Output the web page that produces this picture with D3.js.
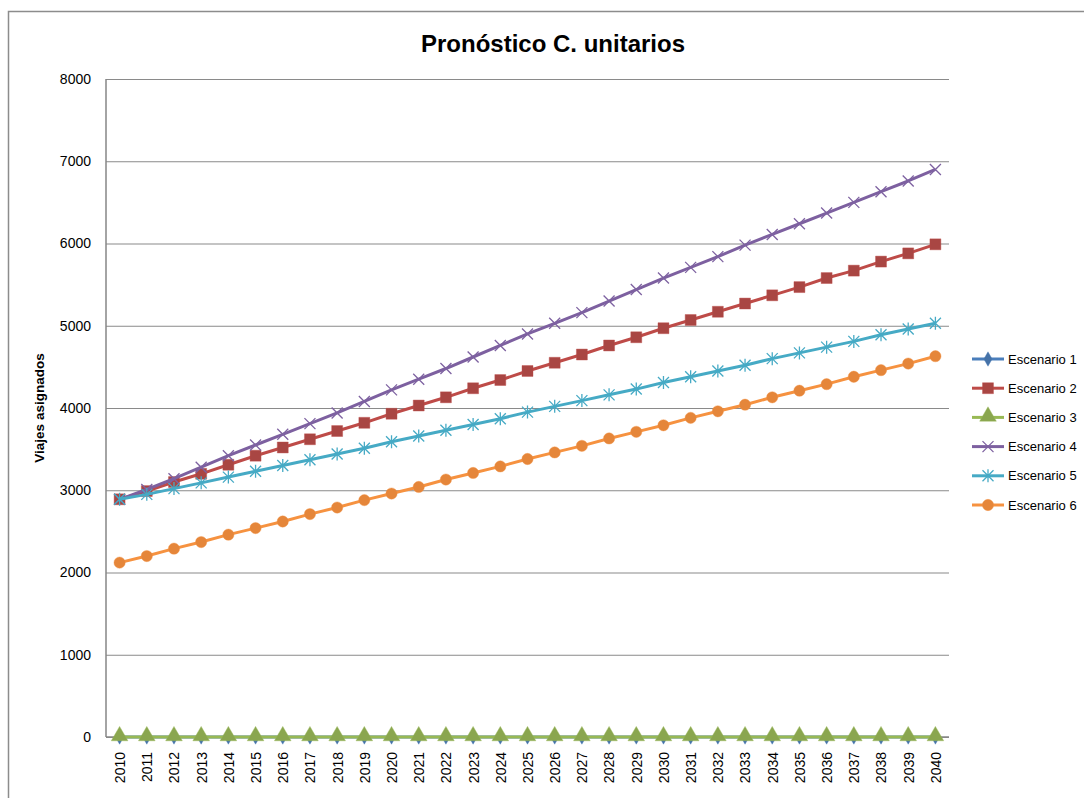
<!DOCTYPE html>
<html>
<head>
<meta charset="utf-8">
<script src="https://cdn.jsdelivr.net/npm/d3@7"></script>
<style>
  body { margin: 0; background: #ffffff; }
  #chart { width: 1084px; height: 798px; }
</style>
</head>
<body>
<div id="chart"></div>
<script>
// Data
const years = [
  2010, 2011, 2012, 2013, 2014, 2015, 2016, 2017, 2018, 2019, 2020,
  2021, 2022, 2023, 2024, 2025, 2026, 2027, 2028, 2029, 2030,
  2031, 2032, 2033, 2034, 2035, 2036, 2037, 2038, 2039, 2040,
];
const seriesNames = ["Escenario 1", "Escenario 2", "Escenario 3", "Escenario 4", "Escenario 5", "Escenario 6"];
const escenario1 = [0, 0, 0, 0, 0, 0, 0, 0, 0, 0, 0, 0, 0, 0, 0, 0, 0, 0, 0, 0, 0, 0, 0, 0, 0, 0, 0, 0, 0, 0, 0];
const escenario2 = [
  2890, 2990, 3100, 3200, 3310, 3420, 3520, 3620, 3720, 3820, 3930,
  4030, 4130, 4240, 4340, 4450, 4550, 4650, 4760, 4860, 4970,
  5070, 5170, 5270, 5370, 5470, 5580, 5670, 5780, 5880, 5990,
];
const escenario3 = [0, 0, 0, 0, 0, 0, 0, 0, 0, 0, 0, 0, 0, 0, 0, 0, 0, 0, 0, 0, 0, 0, 0, 0, 0, 0, 0, 0, 0, 0, 0];
const escenario4 = [
  2890, 3010, 3140, 3280, 3420, 3550, 3680, 3810, 3940, 4080, 4220,
  4350, 4480, 4620, 4760, 4900, 5030, 5160, 5300, 5440, 5580,
  5710, 5840, 5980, 6110, 6240, 6370, 6500, 6630, 6760, 6900,
];
const escenario5 = [
  2890, 2950, 3020, 3090, 3160, 3230, 3300, 3370, 3440, 3510, 3590,
  3660, 3730, 3800, 3870, 3950, 4020, 4090, 4160, 4230, 4310,
  4380, 4450, 4520, 4600, 4670, 4740, 4810, 4890, 4960, 5030,
];
const escenario6 = [
  2120, 2200, 2290, 2370, 2460, 2540, 2620, 2710, 2790, 2880, 2960,
  3040, 3130, 3210, 3290, 3380, 3460, 3540, 3630, 3710, 3790,
  3880, 3960, 4040, 4130, 4210, 4290, 4380, 4460, 4540, 4630,
];
const yTicks = [0, 1000, 2000, 3000, 4000, 5000, 6000, 7000, 8000];

// Series table built from the arrays above
const seriesValues = [escenario1, escenario2, escenario3, escenario4, escenario5, escenario6];
const lineColors = ["#4A7EBB", "#BE4B48", "#98B954", "#7D60A0", "#46AAC5", "#F69240"];
const markerColors = ["#4572A7", "#A94643", "#8AA64F", "#7E62A1", "#46AAC5", "#E5863A"];
const markerTypes = ["diamond", "square", "triangle", "x", "star", "circle"];

const series = seriesNames.map((name, i) => ({
  name: name,
  line: lineColors[i],
  marker: markerColors[i],
  type: markerTypes[i],
  values: years.map((yr, j) => ({ year: yr, value: seriesValues[i][j] })),
}));

// Setting up dimensions
const width = 1084,
  height = 798;
const plot = { left: 106, right: 949, top: 79, bottom: 737 };
const font = "'Liberation Sans', Arial, sans-serif";

const svg = d3
  .select("#chart")
  .append("svg")
  .attr("width", width)
  .attr("height", height);

// Outer chart border (cut off at right and bottom like the reference)
svg
  .append("path")
  .attr("d", `M8.5,${height + 5}V11.5H${width + 5}`)
  .attr("fill", "none")
  .attr("stroke", "#8C8C8C")
  .attr("stroke-width", 1.5);

// Title
svg
  .append("text")
  .attr("x", 553)
  .attr("y", 52)
  .attr("text-anchor", "middle")
  .style("font-family", font)
  .style("font-weight", "bold")
  .style("font-size", "24px")
  .style("fill", "#000")
  .text("Pronóstico C. unitarios");

// Scales
const x = d3
  .scalePoint()
  .domain(years)
  .range([plot.left, plot.right])
  .padding(0.5);

const y = d3
  .scaleLinear()
  .domain([0, 8000])
  .range([plot.bottom, plot.top]);

// Y axis with gridlines
const yAxis = svg
  .append("g")
  .attr("transform", `translate(${plot.left},0)`)
  .call(
    d3
      .axisLeft(y)
      .tickValues(yTicks)
      .tickSize(-(plot.right - plot.left))
      .tickPadding(15)
      .tickFormat(d3.format("d"))
  );
yAxis.select(".domain").remove();
yAxis
  .selectAll(".tick line")
  .attr("stroke", "#8A8A8A")
  .attr("stroke-width", 1.2);
yAxis
  .selectAll(".tick text")
  .style("font-family", font)
  .style("font-size", "14px")
  .style("fill", "#000");

// Axis lines
svg
  .append("line")
  .attr("x1", plot.left)
  .attr("x2", plot.left)
  .attr("y1", plot.top)
  .attr("y2", plot.bottom)
  .attr("stroke", "#868686")
  .attr("stroke-width", 1.5);

// X axis
const xAxis = svg
  .append("g")
  .attr("transform", `translate(0,${plot.bottom})`)
  .call(d3.axisBottom(x).tickSize(0));
xAxis
  .select(".domain")
  .attr("d", `M${plot.left},0H${plot.right}`)
  .attr("stroke", "#868686")
  .attr("stroke-width", 1.5);
xAxis
  .selectAll(".tick text")
  .attr("transform", "rotate(-90)")
  .attr("x", -15)
  .attr("y", 0)
  .attr("dy", "0.35em")
  .style("text-anchor", "end")
  .style("font-family", font)
  .style("font-size", "14px")
  .style("fill", "#000");

// Y axis label
svg
  .append("text")
  .attr("transform", `translate(44,${(plot.top + plot.bottom) / 2}) rotate(-90)`)
  .attr("text-anchor", "middle")
  .style("font-family", font)
  .style("font-weight", "bold")
  .style("font-size", "13.5px")
  .style("fill", "#000")
  .text("Viajes asignados");

// Function to draw one marker into a group
function drawMarker(g, s) {
  if (s.type === "x" || s.type === "star") {
    const r = 5.5;
    let d = `M${-r},${-r}L${r},${r}M${-r},${r}L${r},${-r}`;
    if (s.type === "star") d += `M0,${-r - 1}V${r + 1}`;
    g.append("path")
      .attr("d", d)
      .attr("fill", "none")
      .attr("stroke", s.marker)
      .attr("stroke-width", 1.3);
  } else {
    const shapes = {
      diamond: [d3.symbolDiamond, 60],
      square: [d3.symbolSquare, 120],
      triangle: [d3.symbolTriangle, 120],
      circle: [d3.symbolCircle, 100],
    };
    const sh = shapes[s.type];
    g.append("path")
      .attr("d", d3.symbol().type(sh[0]).size(sh[1])())
      .attr("transform", s.type === "triangle" ? "translate(0,-1)" : null)
      .attr("fill", s.marker)
      .attr("stroke", s.line)
      .attr("stroke-opacity", 0.5)
      .attr("stroke-width", 0.8);
  }
}

// Line generator
const line = d3
  .line()
  .x((d) => x(d.year))
  .y((d) => y(d.value));

// Rendering series
series.forEach((s) => {
  const g = svg.append("g").attr("class", "series");
  g.append("path")
    .datum(s.values)
    .attr("d", line)
    .attr("fill", "none")
    .attr("stroke", s.line)
    .attr("stroke-width", 3)
    .attr("stroke-linejoin", "round");

  g.selectAll(".marker")
    .data(s.values)
    .enter()
    .append("g")
    .attr("class", "marker")
    .attr("transform", (d) => `translate(${x(d.year)},${y(d.value)})`)
    .each(function () {
      drawMarker(d3.select(this), s);
    });
});

// Legend
const legend = svg
  .append("g")
  .attr("transform", "translate(972,359)");

series.forEach((s, i) => {
  const row = legend.append("g").attr("transform", `translate(0,${i * 29.2})`);
  row
    .append("line")
    .attr("x1", 0)
    .attr("x2", 32)
    .attr("stroke", s.line)
    .attr("stroke-width", 3);
  const m = row.append("g").attr("transform", "translate(16,0)");
  drawMarker(m, s);
  row
    .append("text")
    .attr("x", 36)
    .attr("dy", "0.35em")
    .style("font-family", font)
    .style("font-size", "13px")
    .style("fill", "#000")
    .text(s.name);
});
</script>
</body>
</html>
